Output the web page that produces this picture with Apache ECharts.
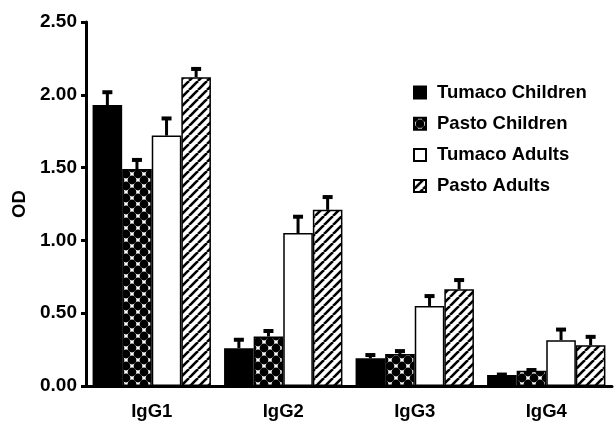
<!DOCTYPE html>
<html>
<head>
<meta charset="utf-8">
<script src="https://cdn.jsdelivr.net/npm/echarts@6/dist/echarts.min.js"></script>
<style>
html,body{margin:0;padding:0;background:#fff;}
#chart{width:614px;height:421px;}
</style>
</head>
<body>
<div id="chart"></div>
<script>
// ---- data ----
const categories = ['IgG1', 'IgG2', 'IgG3', 'IgG4'];
const seriesNames = ['Tumaco Children', 'Pasto Children', 'Tumaco Adults', 'Pasto Adults'];
const tumacoChildren = [1.93, 0.26, 0.19, 0.075];
const pastoChildren  = [1.49, 0.34, 0.22, 0.105];
const tumacoAdults   = [1.72, 1.05, 0.55, 0.315];
const pastoAdults    = [2.12, 1.21, 0.665, 0.28];
// upper error (SEM)
const tumacoChildrenErr = [0.10, 0.07, 0.035, 0.016];
const pastoChildrenErr  = [0.075, 0.05, 0.032, 0.017];
const tumacoAdultsErr   = [0.13, 0.125, 0.08, 0.085];
const pastoAdultsErr    = [0.07, 0.10, 0.075, 0.07];
const yTicks = [0, 0.5, 1.0, 1.5, 2.0, 2.5];

const means = [tumacoChildren, pastoChildren, tumacoAdults, pastoAdults];
const errs = [tumacoChildrenErr, pastoChildrenErr, tumacoAdultsErr, pastoAdultsErr];

// ---- patterns ----
function checkerPattern() {
  const c = document.createElement('canvas');
  c.width = 12; c.height = 12;
  const g = c.getContext('2d');
  g.fillStyle = '#fff'; g.fillRect(0, 0, 12, 12);
  g.fillStyle = '#000';
  [[0,0],[12,0],[0,12],[12,12],[6,6]].forEach(p => {
    g.beginPath(); g.arc(p[0], p[1], 4.4, 0, Math.PI * 2); g.fill();
  });
  return c;
}
function hatchPattern() {
  const c = document.createElement('canvas');
  c.width = 9; c.height = 9;
  const g = c.getContext('2d');
  g.fillStyle = '#fff'; g.fillRect(0, 0, 9, 9);
  g.strokeStyle = '#000'; g.lineWidth = 2.6;
  [-9, 0, 9].forEach(k => {
    g.beginPath(); g.moveTo(k, 9); g.lineTo(k + 9, 0); g.stroke();
  });
  return c;
}
const fills = [
  '#000',
  { image: checkerPattern(), repeat: 'repeat' },
  '#fff',
  { image: hatchPattern(), repeat: 'repeat' }
];

const FONT = "'Liberation Sans', Arial, Helvetica, sans-serif";
const BAR_AREA = 0.9;

const series = [];
seriesNames.forEach((name, si) => {
  series.push({
    name: name,
    type: 'bar',
    data: means[si],
    barGap: '0%',
    barCategoryGap: '10%',
    itemStyle: { color: fills[si], borderColor: '#000', borderWidth: 1.5 },
    emphasis: { disabled: true },
    z: 2
  });
});

const errData = [];
seriesNames.forEach((name, si) => {
  categories.forEach((c, ci) => {
    errData.push([ci, means[si][ci], means[si][ci] + errs[si][ci], si]);
  });
});

series.push({
  name: 'err',
  type: 'custom',
  z: 3,
  encode: { x: 0, y: [1, 2] },
  data: errData,
  renderItem: function (params, api) {
    const ci = api.value(0), mean = api.value(1), top = api.value(2), si = api.value(3);
    const base = api.coord([ci, mean]);
    const tp = api.coord([ci, top]);
    const band = api.size([1, 0])[0];
    const bw = band * BAR_AREA / 4;
    const x = base[0] - band * BAR_AREA / 2 + (si + 0.5) * bw;
    const yt = tp[1] + 1.8;
    return {
      type: 'group',
      children: [
        { type: 'line', shape: { x1: x, y1: base[1], x2: x, y2: yt }, style: { stroke: '#000', lineWidth: 3 } },
        { type: 'line', shape: { x1: x - 5, y1: yt, x2: x + 5, y2: yt }, style: { stroke: '#000', lineWidth: 4 } }
      ]
    };
  }
});

const chart = echarts.init(document.getElementById('chart'), null, { renderer: 'canvas' });
chart.setOption({
  animation: false,
  backgroundColor: '#fff',
  textStyle: { fontFamily: FONT },
  grid: { left: 86, right: 2, top: 22, bottom: 35, containLabel: false },
  legend: {
    data: seriesNames,
    orient: 'vertical',
    left: 408,
    top: 78,
    itemWidth: 12,
    itemHeight: 12,
    itemGap: 12.2,
    icon: 'rect',
    selectedMode: false,
    textStyle: { fontFamily: FONT, fontSize: 18.5, fontWeight: 'bold', color: '#000', padding: [0, 0, 0, 6] }
  },
  xAxis: {
    type: 'category',
    data: categories,
    axisLine: { lineStyle: { color: '#000', width: 3 } },
    axisTick: { length: 5, lineStyle: { color: '#000', width: 3 } },
    axisLabel: { color: '#000', fontSize: 18.5, fontWeight: 'bold', fontFamily: FONT, margin: 16 },
    splitLine: { show: false }
  },
  yAxis: {
    type: 'value',
    min: yTicks[0],
    max: yTicks[yTicks.length - 1],
    interval: 0.5,
    name: 'OD',
    nameLocation: 'middle',
    nameGap: 57,
    nameRotate: 90,
    nameTextStyle: { color: '#000', fontSize: 18.5, fontWeight: 'bold', fontFamily: FONT },
    axisLine: { show: true, lineStyle: { color: '#000', width: 3 } },
    axisTick: { show: true, length: 5, lineStyle: { color: '#000', width: 3 } },
    axisLabel: { color: '#000', fontSize: 19, fontWeight: 'bold', fontFamily: FONT, margin: 9,
      formatter: v => v.toFixed(2) },
    splitLine: { show: false }
  },
  series: series
});
</script>
</body>
</html>
